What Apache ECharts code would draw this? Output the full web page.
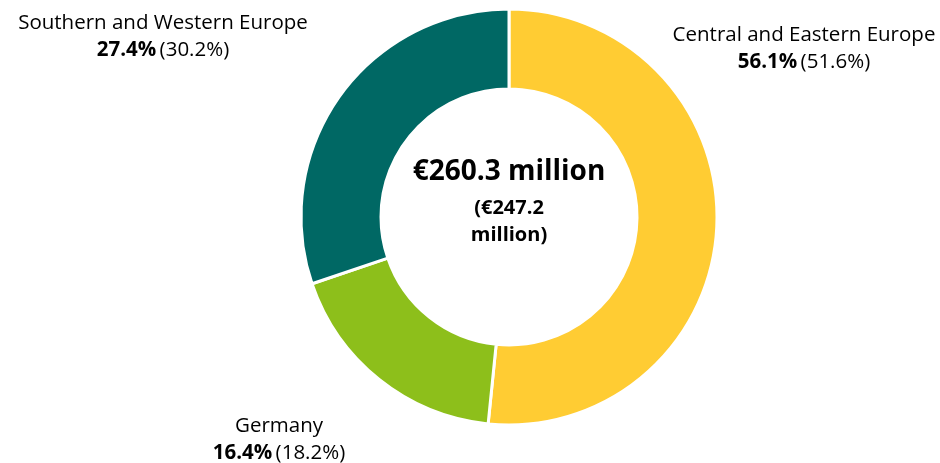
<!DOCTYPE html>
<html>
<head>
<meta charset="utf-8">
<script src="https://cdn.jsdelivr.net/npm/echarts@6/dist/echarts.min.js"></script>
<style>
  html, body { margin: 0; padding: 0; background: #fff; }
  #chart { width: 940px; height: 463px; }
</style>
</head>
<body>
<div id="chart"></div>
<script>
// Regional split of the total, current year share with prior year in brackets
const regions = ['Central and Eastern Europe', 'Germany', 'Southern and Western Europe'];
const shareCurrent = [56.1, 16.4, 27.4];
const sharePrior = [51.6, 18.2, 30.2];
const regionColors = ['#FFCC33', '#8DBF1B', '#006864'];
const totalCurrent = '€260.3 million';
const totalPrior = '(€247.2\nmillion)';

const FONT = 'Open Sans';

// Label anchor points (centre of each two-line label block)
const labelAnchors = [
  { x: 804, y: 49 },
  { x: 279, y: 440 },
  { x: 163, y: 37 }
];

const chart = echarts.init(document.getElementById('chart'));
chart.setOption({
  animation: false,
  graphic: [
    {
      type: 'text',
      style: {
        text: totalCurrent,
        x: 509, y: 172,
        align: 'center', verticalAlign: 'middle',
        font: 'bold 28px "' + FONT + '"',
        fill: '#000'
      }
    },
    {
      type: 'text',
      style: {
        text: totalPrior,
        x: 509, y: 222,
        align: 'center', verticalAlign: 'middle',
        font: 'bold 20px "' + FONT + '"',
        lineHeight: 27,
        fill: '#000'
      }
    }
  ],
  series: [{
    type: 'pie',
    center: [509, 217],
    radius: [128, 208],
    startAngle: 90,
    clockwise: true,
    silent: true,
    itemStyle: { borderColor: '#fff', borderWidth: 3 },
    // segment sweep follows the bracketed shares
    data: regions.map((name, i) => ({
      name,
      value: sharePrior[i],
      itemStyle: { color: regionColors[i] }
    })),
    label: {
      show: true,
      position: 'outside',
      overflow: 'none',
      formatter: (p) => '{n|' + p.name + '}\n{b|' + shareCurrent[p.dataIndex].toFixed(1) + '%} {r|(' + sharePrior[p.dataIndex].toFixed(1) + '%)}',
      align: 'center',
      rich: {
        n: { fontFamily: FONT, fontSize: 20.5, color: '#000', lineHeight: 27, align: 'center' },
        b: { fontFamily: FONT, fontSize: 20.5, fontWeight: 'bold', color: '#000', lineHeight: 27 },
        r: { fontFamily: FONT, fontSize: 20.5, color: '#000', lineHeight: 27 }
      }
    },
    labelLine: { show: false },
    labelLayout: (p) => ({
      x: labelAnchors[p.dataIndex].x,
      y: labelAnchors[p.dataIndex].y,
      align: 'center',
      verticalAlign: 'middle'
    })
  }]
});
</script>
</body>
</html>
